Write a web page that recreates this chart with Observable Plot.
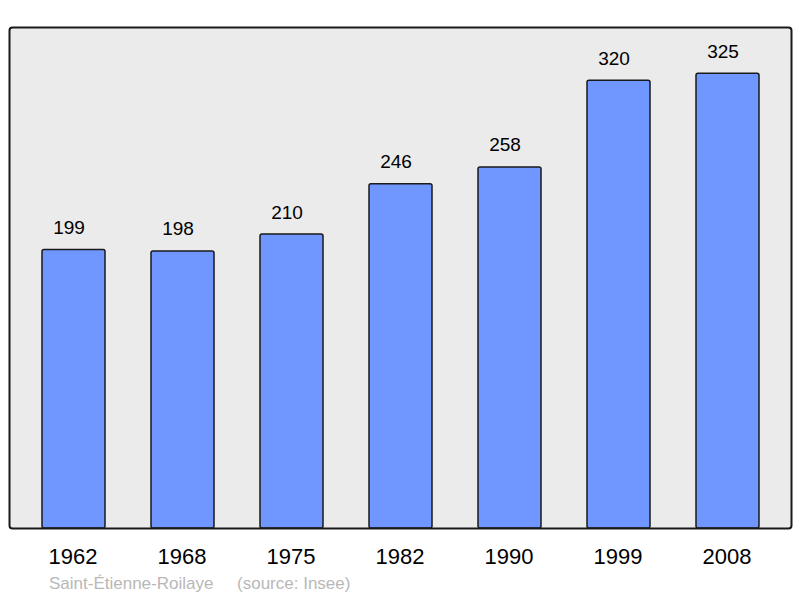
<!DOCTYPE html>
<html>
<head>
<meta charset="utf-8">
<script src="https://cdn.jsdelivr.net/npm/d3@7"></script>
<script src="https://cdn.jsdelivr.net/npm/@observablehq/plot@0.6"></script>
<style>
  html, body { margin: 0; padding: 0; background: #fff; }
  body { width: 800px; height: 598px; position: relative; overflow: hidden; font-family: "Liberation Sans", Arial, sans-serif; }
  #caption { position: absolute; left: 49px; top: 574px; font-size: 17px; color: #b8b8b8; white-space: pre; font-family: "Liberation Sans", Arial, sans-serif; }
</style>
</head>
<body>
<div id="chart"></div>
<div id="caption"></div>
<script>
const years = ["1962", "1968", "1975", "1982", "1990", "1999", "2008"];
const population = [199, 198, 210, 246, 258, 320, 325];
const commune = "Saint-Étienne-Roilaye";
const source = "(source: Insee)";

const data = years.map((y, i) => ({year: y, value: population[i]}));

const chart = Plot.plot({
  width: 800,
  height: 598,
  marginLeft: 9,
  marginRight: 9,
  marginTop: 27,
  marginBottom: 70,
  style: {fontFamily: "Liberation Sans, Arial, sans-serif", color: "#000", background: "transparent"},
  x: {type: "band", domain: years, range: [18, 783], paddingInner: 0.42, paddingOuter: 0.21, label: null},
  y: {domain: [0, 358], range: [528, 27], axis: null},
  marks: [
    Plot.frame({fill: "#ebebeb", stroke: null}),
    Plot.barY(data, {x: "year", y: "value", fill: "#7096ff", stroke: "#1a1a1a", strokeWidth: 1.5, rx: 2}),
    Plot.text(data, {x: "year", y: "value", text: d => String(d.value), lineAnchor: "bottom", dy: -16, dx: -5, fontSize: 19, fill: "#000"}),
    Plot.axisX({tickSize: 0, tickPadding: 20, fontSize: 22, fill: "#000", dx: -1, label: null}),
    Plot.frame({stroke: "#1a1a1a", strokeWidth: 2, rx: 3})
  ]
});
document.getElementById("chart").appendChild(chart);
document.getElementById("caption").textContent = commune + "     " + source;
</script>
</body>
</html>
